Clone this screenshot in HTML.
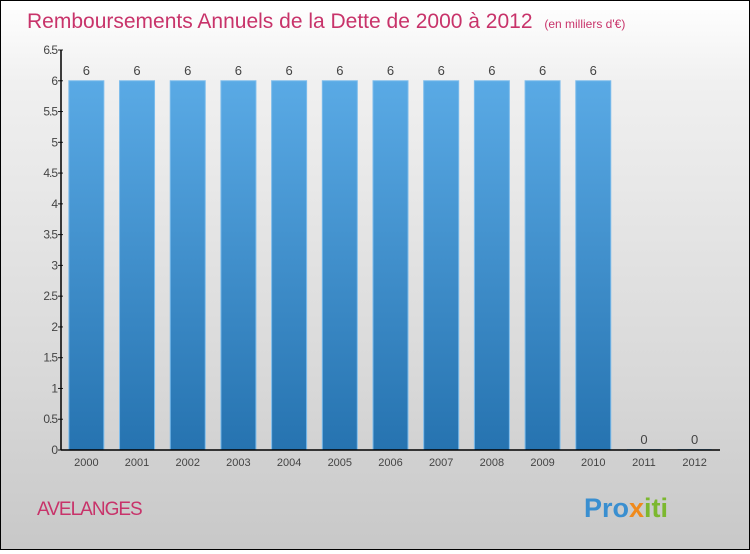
<!DOCTYPE html>
<html><head><meta charset="utf-8"><style>
html,body{margin:0;padding:0}
body{width:750px;height:550px;overflow:hidden;font-family:"Liberation Sans","DejaVu Sans",sans-serif}
#wrap{position:relative;width:748px;height:548px;border:1px solid #000;background:linear-gradient(#ffffff,#f0f0f0 15%,#d8d8d8 70%,#c8c8c8)}
</style></head><body>
<div id="wrap">
<svg width="748" height="548" viewBox="0 0 748 548" xmlns="http://www.w3.org/2000/svg">
<defs>
<linearGradient id="bg" x1="0" y1="0" x2="0" y2="1"><stop offset="0" stop-color="#5aaae5"/><stop offset="1" stop-color="#2673b0"/></linearGradient>
</defs>
<text x="26" y="27" font-size="21" fill="#c8336a">Remboursements Annuels de la Dette de 2000 à 2012 <tspan font-size="12" dx="6">(en milliers d'€)</tspan></text>
<g id="plot"></g>
<text x="36" y="514" font-size="19" fill="#c8336a" letter-spacing="-1">AVELANGES</text>
<text x="583" y="516" font-size="27" font-weight="bold"><tspan fill="#3a8fd0">Pro</tspan><tspan fill="#f08a1c">x</tspan><tspan fill="#7cb82f">iti</tspan></text>
</svg>
</div>
<script>
const categories=["2000","2001","2002","2003","2004","2005","2006","2007","2008","2009","2010","2011","2012"];
const values=[6,6,6,6,6,6,6,6,6,6,6,0,0];
const ticks=[0,0.5,1,1.5,2,2.5,3,3.5,4,4.5,5,5.5,6,6.5];
const NS="http://www.w3.org/2000/svg";
const g=document.getElementById('plot');
const x0=60,x1=719,yb=449,yt=49,ymax=6.5;
const bw=(x1-x0)/categories.length;
function y(v){return yb-(v/ymax)*(yb-yt);}
function xc(i){return x0+bw*(i+0.5);}
function mk(t,a){const e=document.createElementNS(NS,t);for(const k in a)e.setAttribute(k,a[k]);g.appendChild(e);return e;}
values.forEach((v,i)=>{
  const h=yb-y(v);
  if(h>0){const r=mk('rect',{x:xc(i)-17.5,y:y(v),width:35,height:h,fill:'url(#bg)',stroke:'#7cbcec','stroke-width':1});
  
  }
  else{const r=mk('line',{x1:xc(i)-17,x2:xc(i)+17,y1:yb-0.5,y2:yb-0.5,stroke:'#7cbcec'});
  
  }
  const t=mk('text',{x:xc(i),y:y(v)-6,'font-size':13,fill:'#444','text-anchor':'middle'});t.textContent=values[i];
  
  
  const c=mk('text',{x:xc(i),y:yb+16,'font-size':11,fill:'#444','text-anchor':'middle'});c.textContent=categories[i];
  
  
});
ticks.forEach(v=>{
  const l=mk('line',{x1:x0-3,x2:x0+2,y1:y(v),y2:y(v),stroke:'#222'});
  
  
  const t=mk('text',{x:x0-4,y:y(v)+4,'font-size':12,fill:'#444','text-anchor':'end','letter-spacing':'-1'});t.textContent=v;
  
  
});
const ya=mk('line',{x1:x0,x2:x0,y1:yt,y2:yb,stroke:'#000','stroke-width':1.5});


const xa=mk('line',{x1:x0,x2:x1,y1:yb,y2:yb,stroke:'#000','stroke-width':1.5});


</script>
</body></html>
